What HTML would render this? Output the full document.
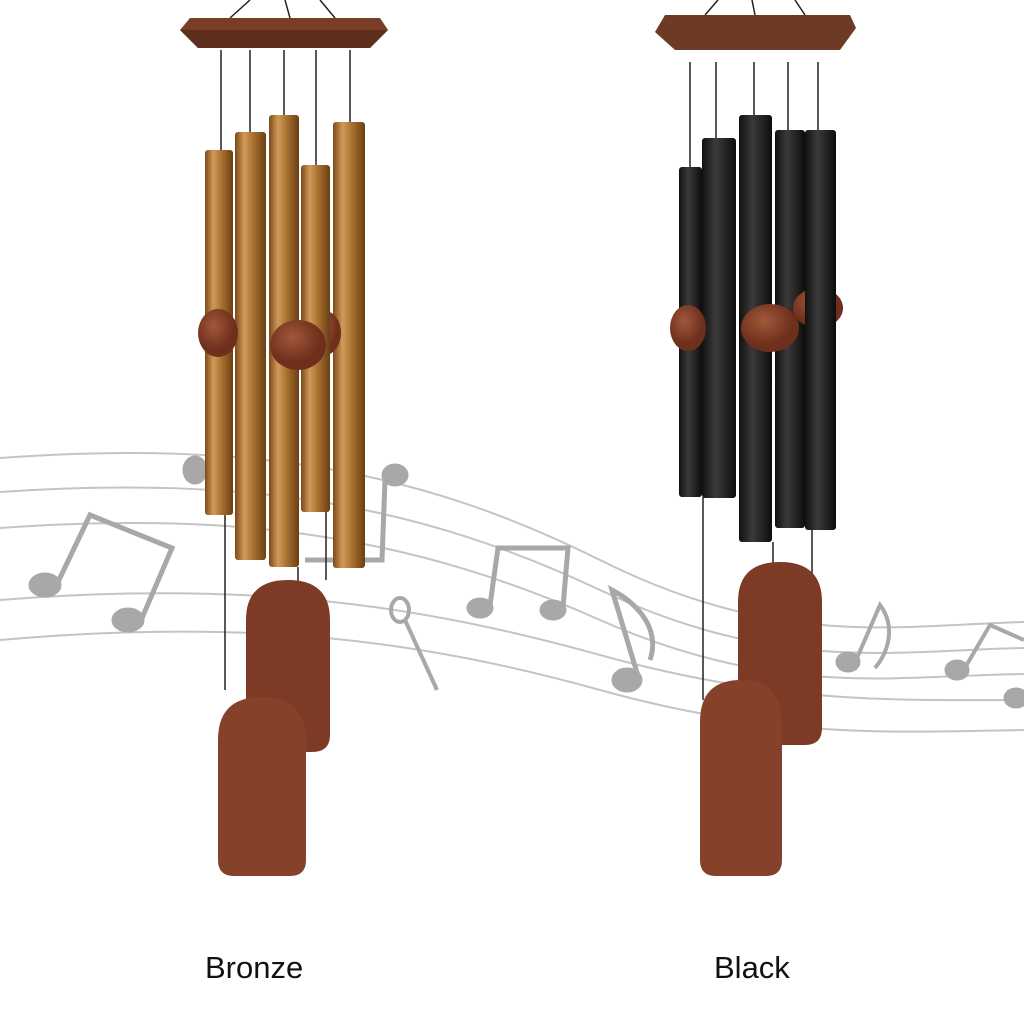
<!DOCTYPE html>
<html><head><meta charset="utf-8"><style>
html,body{margin:0;padding:0;background:#fff;width:1024px;height:1024px;overflow:hidden}
.lbl{position:absolute;font-family:"Liberation Sans",sans-serif;font-size:31px;color:#111;top:950px}
</style></head><body>
<svg width="1024" height="1024" viewBox="0 0 1024 1024" style="position:absolute;left:0;top:0">
<defs>
<linearGradient id="br" x1="0" x2="1"><stop offset="0" stop-color="#7a4a1c"/><stop offset=".3" stop-color="#d29a58"/><stop offset=".6" stop-color="#a8702f"/><stop offset="1" stop-color="#6a3e14"/></linearGradient>
<linearGradient id="bk" x1="0" x2="1"><stop offset="0" stop-color="#111"/><stop offset=".4" stop-color="#3a3a3a"/><stop offset="1" stop-color="#0d0d0d"/></linearGradient>
<radialGradient id="ball" cx=".4" cy=".35"><stop offset="0" stop-color="#a2583a"/><stop offset="1" stop-color="#6e2f1c"/></radialGradient>
</defs>
<g fill="none" stroke="#c4c4c4" stroke-width="2">
<path d="M0,458 C250,440 420,470 600,560 S900,625 1024,622"/>
<path d="M0,492 C250,475 420,505 600,590 S900,650 1024,648"/>
<path d="M0,528 C250,510 420,540 600,620 S900,675 1024,674"/>
<path d="M0,600 C250,580 420,605 600,655 S900,700 1024,700"/>
<path d="M0,640 C250,618 420,640 600,690 S900,732 1024,730"/>
</g>
<g fill="#a8a8a8" stroke="#a8a8a8">
<ellipse cx="45" cy="585" rx="16" ry="12"/><ellipse cx="128" cy="620" rx="16" ry="12"/>
<path d="M58,582 L90,515 L172,548 L142,618" fill="none" stroke-width="5"/>
<ellipse cx="395" cy="475" rx="13" ry="11"/><path d="M385,480 L382,560 L305,560" fill="none" stroke-width="5"/>
<ellipse cx="480" cy="608" rx="13" ry="10"/><ellipse cx="553" cy="610" rx="13" ry="10"/>
<path d="M490,605 L498,548 L568,548 L563,607" fill="none" stroke-width="5"/>
<ellipse cx="400" cy="610" rx="9" ry="12" fill="none" stroke-width="4"/><path d="M405,620 L437,690" stroke-width="4"/>
<ellipse cx="627" cy="680" rx="15" ry="12"/><path d="M638,676 L612,590 C640,605 660,630 650,660" fill="none" stroke-width="5"/>
<ellipse cx="848" cy="662" rx="12" ry="10"/><path d="M857,658 L880,605 C895,625 890,650 875,668" fill="none" stroke-width="4"/>
<ellipse cx="957" cy="670" rx="12" ry="10"/><ellipse cx="1016" cy="698" rx="12" ry="10"/>
<path d="M966,666 L990,625 L1024,640" fill="none" stroke-width="4"/>
<ellipse cx="195" cy="470" rx="12" ry="14"/>
</g>
<g stroke="#222" stroke-width="1.5">
<path d="M230,18 L250,0 M290,18 L285,0 M335,18 L320,0" />
<path d="M221,50 V150 M250,50 V132 M284,50 V115 M316,50 V165 M350,50 V122"/>
<path d="M225,515 V690 M298,567 V700 M326,512 V580"/>
</g>
<path d="M190,18 H380 L388,30 L370,48 H198 L180,30 Z" fill="#7a3e26"/>
<path d="M180,30 L388,30 L370,48 H198 Z" fill="#5e2e1c"/>
<rect x="205" y="150" width="28" height="365" rx="3" fill="url(#br)"/>
<rect x="235" y="132" width="31" height="428" rx="3" fill="url(#br)"/>
<rect x="333" y="122" width="32" height="446" rx="3" fill="url(#br)"/>
<ellipse cx="218" cy="333" rx="20" ry="24" fill="url(#ball)"/>
<ellipse cx="325" cy="333" rx="16" ry="22" fill="url(#ball)"/>
<rect x="301" y="165" width="29" height="347" rx="3" fill="url(#br)"/>
<rect x="269" y="115" width="30" height="452" rx="3" fill="url(#br)"/>
<ellipse cx="298" cy="345" rx="28" ry="25" fill="url(#ball)"/>
<path d="M246,620 Q246,580 288,580 Q330,580 330,620 V735 Q330,752 312,752 H262 Q246,752 246,735 Z" fill="#7d3a24"/>
<path d="M218,740 Q218,697 262,697 Q306,697 306,740 V860 Q306,876 290,876 H234 Q218,876 218,860 Z" fill="#86412a"/>
<g stroke="#222" stroke-width="1.5">
<path d="M705,15 L718,0 M755,15 L752,0 M805,15 L795,0"/>
<path d="M690,62 V167 M716,62 V138 M754,62 V115 M788,62 V130 M818,62 V130"/>
<path d="M703,497 V700 M773,542 V690 M812,530 V580"/>
</g>
<path d="M665,15 H850 L856,28 L840,50 H675 L655,32 Z" fill="#6d3a26"/>
<rect x="679" y="167" width="23" height="330" rx="3" fill="url(#bk)"/>
<rect x="702" y="138" width="34" height="360" rx="3" fill="url(#bk)"/>
<ellipse cx="688" cy="328" rx="18" ry="23" fill="url(#ball)"/>
<rect x="775" y="130" width="30" height="398" rx="3" fill="url(#bk)"/>
<ellipse cx="818" cy="308" rx="25" ry="20" fill="url(#ball)"/>
<rect x="805" y="130" width="31" height="400" rx="3" fill="url(#bk)"/>
<rect x="739" y="115" width="33" height="427" rx="3" fill="url(#bk)"/>
<ellipse cx="770" cy="328" rx="29" ry="24" fill="url(#ball)"/>
<path d="M738,602 Q738,562 780,562 Q822,562 822,602 V728 Q822,745 805,745 H755 Q738,745 738,728 Z" fill="#7d3a24"/>
<path d="M700,722 Q700,680 741,680 Q782,680 782,722 V860 Q782,876 766,876 H716 Q700,876 700,860 Z" fill="#86412a"/>
</svg>
<div class="lbl" style="left:205px">Bronze</div>
<div class="lbl" style="left:714px">Black</div>
</body></html>
